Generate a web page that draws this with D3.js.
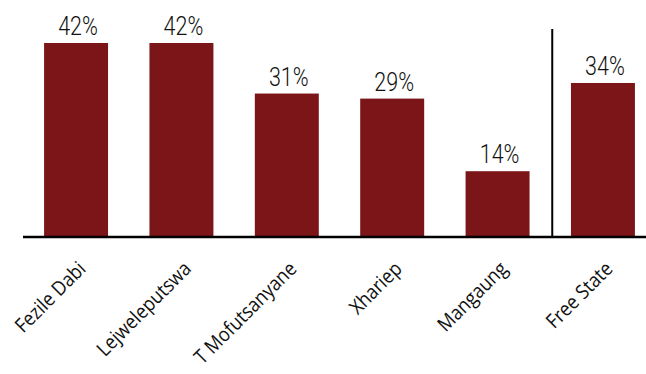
<!DOCTYPE html>
<html>
<head>
<meta charset="utf-8">
<script src="https://cdn.jsdelivr.net/npm/d3@7"></script>
<style>
  html, body { margin: 0; padding: 0; background: #fff; }
  svg { display: block; }
</style>
</head>
<body>
<div id="chart"></div>
<script>
// 各區數值 (%)，長條高度依圖上量得，標籤照原圖文字
const districts = ["Fezile Dabi", "Lejweleputswa", "T Mofutsanyane", "Xhariep", "Mangaung", "Free State"];
const shares = [42, 42, 31, 29.9, 14.1, 33.3];
const shareLabels = ["42%", "42%", "31%", "29%", "14%", "34%"];

const width = 646, height = 374;
const barColor = "#7b1518";

const svg = d3.select("#chart")
  .append("svg")
  .attr("width", width)
  .attr("height", height);

const x = d3.scaleBand()
  .domain(districts)
  .range([23, 656])
  .paddingInner(0.393)
  .paddingOuter(0.2);

const y = d3.scaleLinear()
  .domain([0, 42])
  .range([236, 43]);

const data = districts.map((d, i) => ({ name: d, value: shares[i], label: shareLabels[i] }));

// 長條
svg.append("g")
  .selectAll("rect")
  .data(data)
  .enter()
  .append("rect")
  .attr("x", d => x(d.name))
  .attr("y", d => y(d.value))
  .attr("width", x.bandwidth())
  .attr("height", d => y(0) - y(d.value))
  .attr("fill", barColor);

// 數值標籤 (窄體字，用水平縮放模擬)
svg.append("g")
  .selectAll("text")
  .data(data)
  .enter()
  .append("text")
  .attr("transform", d => `translate(${x(d.name) + x.bandwidth() / 2 + 2},${y(d.value) - 8}) scale(0.86,1)`)
  .attr("text-anchor", "middle")
  .attr("font-family", "Roboto, sans-serif")
  .attr("font-weight", 300)
  .attr("font-size", 25)
  .attr("fill", "#111")
  .text(d => d.label);

// x 軸線
svg.append("line")
  .attr("x1", 23).attr("x2", width)
  .attr("y1", y(0) + 1).attr("y2", y(0) + 1)
  .attr("stroke", "#000")
  .attr("stroke-width", 2.5);

// 省平均分隔線
const sepX = x("Free State") - x.step() * x.paddingInner() / 2 + 2;
svg.append("line")
  .attr("x1", sepX).attr("x2", sepX)
  .attr("y1", 29).attr("y2", y(0) + 1)
  .attr("stroke", "#000")
  .attr("stroke-width", 2);

// 類別標籤 (旋轉)
svg.append("g")
  .selectAll("text")
  .data(data)
  .enter()
  .append("text")
  .attr("transform", d => `translate(${x(d.name) + x.bandwidth() / 2 + 11},${y(0) + 34}) rotate(-45) scale(0.9,1)`)
  .attr("text-anchor", "end")
  .attr("font-family", "'Open Sans', sans-serif")
  .attr("font-size", 20)
  .attr("fill", "#111")
  .text(d => d.name);
</script>
</body>
</html>
